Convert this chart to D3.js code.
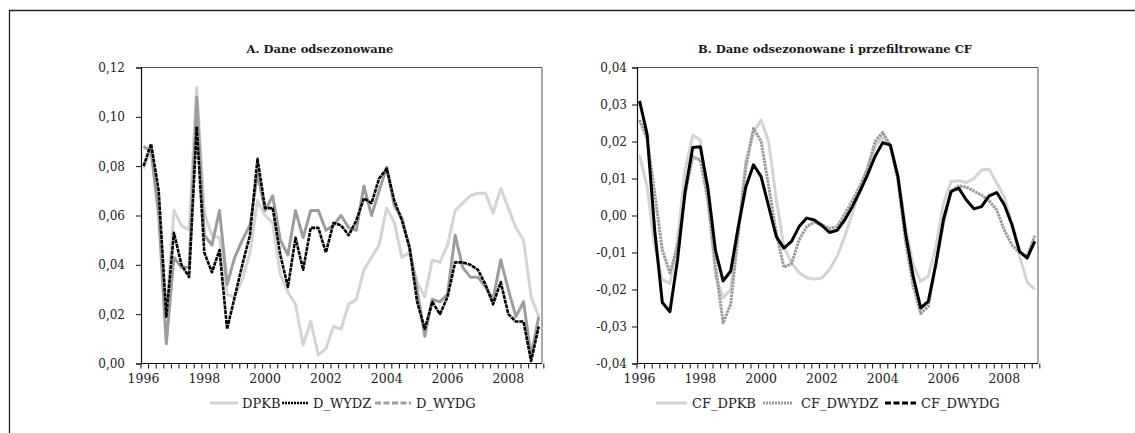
<!DOCTYPE html>
<html><head><meta charset="utf-8">
<script src="https://cdn.jsdelivr.net/npm/d3@7"></script>
<style>
html,body{margin:0;padding:0;background:#fff;}
svg{display:block;font-family:"DejaVu Serif",serif;}
</style></head>
<body>
<svg id="chart" width="1135" height="433"></svg>
<script>
// ---- data (quarterly, 1996Q1 .. 2009Q1) ----
const quarters = d3.range(53).map(i => (1996 + Math.floor(i / 4)) + "Q" + (i % 4 + 1));
const yearLabels = ["1996","1998","2000","2002","2004","2006","2008"];

const DPKB = [0.079,0.087,0.066,0.020,0.062,0.056,0.054,0.112,0.061,0.052,0.051,0.028,0.027,0.034,0.045,0.066,
0.060,0.057,0.036,0.029,0.024,0.0075,0.017,0.0035,0.006,0.015,0.014,0.024,0.026,0.038,0.043,0.048,
0.063,0.057,0.043,0.045,0.033,0.027,0.042,0.041,0.048,0.062,0.065,0.068,0.069,0.069,0.061,0.071,
0.063,0.055,0.050,0.027,0.019];
const D_WYDZ = [0.080,0.089,0.070,0.019,0.053,0.040,0.035,0.096,0.045,0.037,0.046,0.014,0.027,0.040,0.052,0.083,
0.063,0.063,0.044,0.031,0.051,0.038,0.055,0.055,0.045,0.057,0.056,0.052,0.058,0.067,0.065,0.075,
0.079,0.066,0.058,0.047,0.025,0.014,0.025,0.020,0.027,0.041,0.041,0.040,0.038,0.032,0.024,0.033,
0.020,0.017,0.017,0.001,0.015];
const D_WYDG = [0.088,0.086,0.060,0.008,0.043,0.039,0.039,0.108,0.052,0.048,0.062,0.032,0.043,0.050,0.056,0.077,
0.062,0.068,0.050,0.044,0.062,0.051,0.062,0.062,0.054,0.056,0.060,0.055,0.054,0.072,0.060,0.070,
0.0795,0.064,0.059,0.047,0.030,0.011,0.026,0.025,0.028,0.052,0.039,0.035,0.035,0.031,0.026,0.042,
0.030,0.019,0.025,0.003,0.019];

const CF_DPKB = [0.0164,0.0078,-0.0084,-0.0173,-0.0184,-0.0066,0.0123,0.0217,0.0204,0.0042,-0.0164,-0.0223,-0.0200,-0.0048,0.0150,0.0226,
0.0258,0.0199,0.0042,-0.0084,-0.0128,-0.0155,-0.0168,-0.0172,-0.0169,-0.0146,-0.0110,-0.0057,0.0006,0.0069,0.0132,0.0186,
0.0213,0.0190,0.0110,-0.0030,-0.0133,-0.0178,-0.0164,-0.0084,0.0033,0.0092,0.0094,0.0089,0.0100,0.0123,0.0125,0.0088,
0.0050,-0.0020,-0.0110,-0.0180,-0.0200];
const CF_DWYDZ = [0.0258,0.0208,0.0060,-0.0093,-0.0155,-0.0084,0.0056,0.0159,0.0150,0.0042,-0.0137,-0.0290,-0.0240,-0.0048,0.0132,0.0235,
0.0200,0.0078,-0.0048,-0.0140,-0.0130,-0.0066,-0.0030,-0.0018,-0.0025,-0.0035,-0.0030,0.0004,0.0040,0.0080,0.0125,0.0200,
0.0225,0.0190,0.0095,-0.0070,-0.0190,-0.0265,-0.0245,-0.0130,-0.0020,0.0065,0.0080,0.0077,0.0066,0.0055,0.0040,0.0015,
-0.0040,-0.0080,-0.0100,-0.0110,-0.0055];
const CF_DWYDG = [0.0310,0.0220,-0.0040,-0.0235,-0.0260,-0.0120,0.0065,0.0184,0.0186,0.0074,-0.0095,-0.0177,-0.0150,-0.0030,0.0078,0.0137,
0.0105,0.0024,-0.0057,-0.0088,-0.0070,-0.0030,-0.0007,-0.0012,-0.0027,-0.0046,-0.0040,-0.0012,0.0024,0.0065,0.0110,0.0160,
0.0197,0.0190,0.0105,-0.0048,-0.0164,-0.0250,-0.0232,-0.0130,-0.0010,0.0065,0.0074,0.0042,0.0018,0.0024,0.0053,0.0062,
0.0029,-0.0025,-0.0097,-0.0115,-0.0070];

const ticksA = [0,0.02,0.04,0.06,0.08,0.10,0.12];
const ticksB = [-0.04,-0.03,-0.02,-0.01,0,0.01,0.02,0.03,0.04];

const svg = d3.select("#chart");
const fmtA = v => d3.format(".2f")(v).replace(".", ",").replace("−","-");

// outer frame
svg.append("path").attr("d","M9.5,433 L9.5,10.5 L1135,10.5")
  .attr("fill","none").attr("stroke","#222").attr("stroke-width",1.3);

function panel(cfg){
  const g = svg.append("g");
  const x = d3.scaleLinear().domain([-0.33, 52.43]).range([cfg.left, cfg.left + 401]);
  const y = d3.scaleLinear().domain(cfg.yDomain).range([363.5, 67.5]);

  g.append("text").attr("x", cfg.titleX).attr("y", 52.5).attr("text-anchor","middle")
    .attr("font-weight","bold").attr("font-size", 11.5).attr("fill","#1a1a1a").text(cfg.title);

  g.append("path").attr("d", `M${cfg.left},67.5 L${cfg.left+401},67.5 L${cfg.left+401},363.5`)
    .attr("fill","none").attr("stroke","#555").attr("stroke-width",1);

  const ya = d3.axisLeft(y).tickValues(cfg.yTicks).tickSize(5).tickFormat(fmtA).tickPadding(cfg.yPad);
  const yg = g.append("g").attr("transform",`translate(${cfg.left},0)`).call(ya);
  yg.select(".domain").attr("stroke","#111").attr("stroke-width",1.2);
  yg.selectAll(".tick line").attr("stroke","#111");
  yg.selectAll("text").attr("font-family","DejaVu Serif").attr("font-size",12).attr("fill","#222");

  const xg = g.append("g").attr("transform","translate(0,363.5)");
  xg.append("line").attr("x1",cfg.left).attr("x2",cfg.left+401).attr("stroke","#111").attr("stroke-width",1.2);
  xg.selectAll("line.q").data(d3.range(54)).join("line").attr("class","q")
    .attr("x1", i => x(i - 0.33)).attr("x2", i => x(i - 0.33))
    .attr("y1",0).attr("y2",5).attr("stroke","#111").attr("stroke-width",1);
  xg.selectAll("text").data(yearLabels).join("text")
    .attr("x", (d) => x(quarters.indexOf(d + "Q1"))).attr("y", 19.5)
    .attr("text-anchor","middle").attr("font-size",12.5).attr("fill","#222").text(d => d);

  const line = d3.line().x((d,i) => x(i)).y(d => y(d));
  cfg.series.forEach(s => {
    g.append("path").datum(s.values).attr("d", line).attr("fill","none")
      .attr("stroke", s.color).attr("stroke-width", s.width)
      .attr("stroke-dasharray", s.dash || null).attr("stroke-linejoin","round");
  });

  cfg.series.forEach((s, k) => {
    const L = cfg.legend[k];
    g.append("line").attr("x1", L[0]).attr("x2", L[1]).attr("y1", 403).attr("y2", 403)
      .attr("stroke", s.color).attr("stroke-width", s.width).attr("stroke-dasharray", s.legendDash || s.dash || null);
    g.append("text").attr("x", L[2]).attr("y", 407.5).attr("font-size", 13).attr("fill","#222").text(s.name);
  });
}

panel({
  left: 141, yDomain:[0,0.12], yTicks: ticksA, yPad: 11, titleX: 320,
  title: "A. Dane odsezonowane",
  series: [
    {name:"DPKB", values:DPKB, color:"#d4d4d4", width:3},
    {name:"D_WYDG", values:D_WYDG, color:"#9d9d9d", width:3, legendDash:"6,2.5"},
    {name:"D_WYDZ", values:D_WYDZ, color:"#000", width:2.6, dash:"4,0.8", legendDash:"2,1"}
  ],
  legend: [[210,238,242],[375,411,416],[282,309,313]]
});

panel({
  left: 637, yDomain:[-0.04,0.04], yTicks: ticksB, yPad: 5, titleX: 835,
  title: "B. Dane odsezonowane i przefiltrowane CF",
  series: [
    {name:"CF_DPKB", values:CF_DPKB, color:"#d4d4d4", width:3},
    {name:"CF_DWYDZ", values:CF_DWYDZ, color:"#9a9a9a", width:3, dash:"2.5,0.8", legendDash:"2,1"},
    {name:"CF_DWYDG", values:CF_DWYDG, color:"#000", width:3, legendDash:"6,2.5"}
  ],
  legend: [[656,687,692],[763,792,801],[885,916,921]]
});
</script>
</body></html>
